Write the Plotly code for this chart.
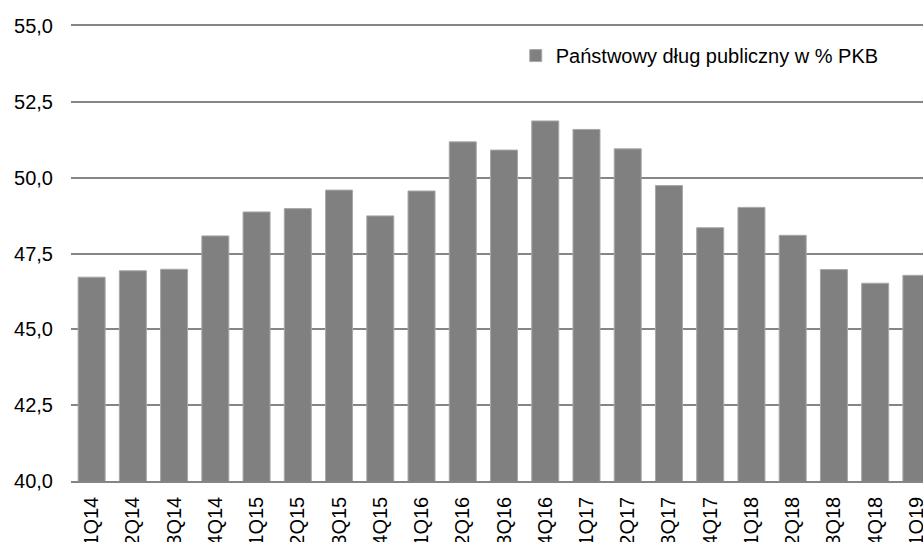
import plotly.graph_objects as go

# Quarterly public debt as % of GDP
quarters = ["1Q14", "2Q14", "3Q14", "4Q14", "1Q15", "2Q15", "3Q15", "4Q15",
            "1Q16", "2Q16", "3Q16", "4Q16", "1Q17", "2Q17", "3Q17", "4Q17",
            "1Q18", "2Q18", "3Q18", "4Q18", "1Q19"]
debt_pct_gdp = [46.72, 46.93, 46.98, 48.08, 48.87, 48.98, 49.59, 48.74,
                49.56, 51.18, 50.91, 51.87, 51.59, 50.95, 49.74, 48.35,
                49.02, 48.10, 46.97, 46.52, 46.78]
y_ticks = [40.0, 42.5, 45.0, 47.5, 50.0, 52.5, 55.0]
y_tick_text = ["40,0", "42,5", "45,0", "47,5", "50,0", "52,5", "55,0"]
series_name = "Państwowy dług publiczny w % PKB"

FONT = "Liberation Sans, Arial, sans-serif"
GRID = "#858585"

fig = go.Figure(
    go.Bar(
        x=list(range(len(quarters))),
        y=debt_pct_gdp,
        name=series_name,
        marker=dict(color="#808080", line=dict(color="#a8a8a8", width=1)),
        showlegend=True,
    )
)

fig.update_layout(
    width=923,
    height=542,
    margin=dict(l=71, r=0, t=26, b=61),
    paper_bgcolor="white",
    plot_bgcolor="white",
    bargap=0.345,
    font=dict(family=FONT, size=20, color="#000000"),
    legend=dict(
        x=0.522, y=0.935, xanchor="left", yanchor="middle",
        bgcolor="rgba(0,0,0,0)", font=dict(family=FONT, size=20, color="#000000"),
        itemwidth=30,
    ),
    xaxis=dict(
        range=[-0.5, 20.16],
        tickmode="array",
        tickvals=list(range(len(quarters))),
        ticktext=quarters,
        tickangle=-90,
        showgrid=False,
        zeroline=False,
        # frame lines at the bottom (40,0) and top (55,0) of the value range
        showline=True,
        mirror=True,
        linecolor=GRID,
        linewidth=1.5,
        ticks="",
        ticklabelstandoff=6,
        ticklabeloverflow="allow",
        automargin=False,
        tickfont=dict(family=FONT, size=20, color="#000000"),
    ),
    yaxis=dict(
        range=[40, 55],
        tickmode="array",
        tickvals=y_ticks,
        ticktext=y_tick_text,
        showgrid=True,
        gridcolor=GRID,
        gridwidth=1.5,
        zeroline=False,
        showline=False,
        ticks="",
        ticklabelstandoff=17,
        automargin=False,
        tickfont=dict(family=FONT, size=20, color="#000000"),
    ),
)

fig.write_html("out.html")
